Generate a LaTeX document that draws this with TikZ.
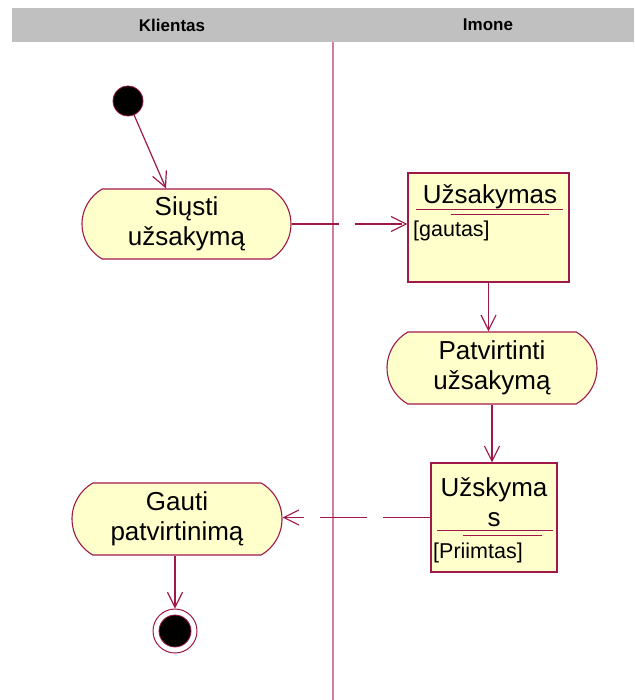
\documentclass[tikz,border=0pt]{standalone}
\usepackage{fontspec}
\setmainfont{Liberation Sans}
\usetikzlibrary{shapes.misc,arrows.meta,calc}
\definecolor{umlline}{HTML}{A0184A}
\definecolor{umlfill}{HTML}{FFFFCC}
\definecolor{headgray}{HTML}{C0C0C0}
\definecolor{laneline}{HTML}{D07EA0}
\begin{document}
\begin{tikzpicture}[x=1pt,y=-1pt,
  activity/.style={rounded rectangle, rounded rectangle arc length=120,
    draw=umlline, fill=umlfill, line width=1.1pt, inner sep=0pt,
    align=center, font=\fontsize{26}{30}\selectfont},
  objbox/.style={rectangle, draw=umlline, fill=umlfill, line width=1.1pt, inner sep=0pt},
  objname/.style={inner sep=0pt, align=center, font=\fontsize{26}{30}\selectfont},
  objstate/.style={inner sep=0pt, anchor=west, font=\fontsize{21.5}{24}\selectfont},
  namerule/.style={draw=umlline, line width=0.9pt},
  flow/.style={draw=umlline, line width=1.2pt, -{Straight Barb[length=15pt,width=15pt]}},
  objflow/.style={flow, dash pattern=on 47pt off 16pt},
  lanehead/.style={inner sep=0pt, font=\fontsize{17}{20}\selectfont\bfseries},
  startnode/.style={circle, fill=black, draw=umlline, line width=0.8pt, minimum size=30pt, inner sep=0pt},
]
\useasboundingbox (0,0) rectangle (634,700);

% swimlane header and divider
\fill[headgray] (12,8) rectangle (634,42);
\node[lanehead] (klientas) at (172,25) {Klientas};
\node[lanehead] (imone) at (488,25) {Imone};
\draw[laneline, line width=2pt] (333,42) -- (333,700);

% activities
\node[startnode] (start) at (128,101) {};
\node[activity, minimum width=209pt, minimum height=70pt] (siusti) at (186.5,224) {Siųsti\\užsakymą};
\node[activity, minimum width=210pt, minimum height=72pt] (patv) at (492,368) {Patvirtinti\\užsakymą};
\node[activity, minimum width=210pt, minimum height=72pt] (gauti) at (177,519) {Gauti\\patvirtinimą};

% object nodes
\node[objbox, minimum width=161pt, minimum height=109pt] (uzs) at (488.5,227.5) {};
\node[objname] (uzsname) at (490,197) {Užsakymas};
\draw[namerule] (416,209) -- (563,209);
\draw[namerule] (451,214) -- (549,214);
\node[objstate] (uzsstate) at (413,231) {[gautas]};

\node[objbox, minimum width=126pt, minimum height=109pt] (uzsk) at (494,517.5) {};
\node[objname] (uzskname) at (494,502) {Užskyma\\s};
\draw[namerule] (437,530) -- (553,530);
\draw[namerule] (463,535) -- (542,535);
\node[objstate] (uzskstate) at (433,553) {[Priimtas]};

% final state
\node[circle, draw=umlline, fill=white, line width=1pt, minimum size=44pt, inner sep=0pt] (finish) at (175,631) {};
\node[startnode, minimum size=32pt] (finishdot) at (finish.center) {};

% flows
\coordinate (siustitop) at ($(siusti.north)+(-20.5,0)$);
\draw[flow] (start) -- (siustitop);
\draw[objflow] (siusti.east) -- (siusti.east -| uzs.west);
\draw[flow] (uzs.south) -- (uzs.south |- patv.north);
\draw[flow] (patv.south) -- (patv.south |- uzsk.north);
\draw[objflow] (uzsk.west) -- (uzsk.west -| gauti.east);
\draw[flow] (gauti.south -| finish.north) -- (finish.north);
\end{tikzpicture}
\end{document}
